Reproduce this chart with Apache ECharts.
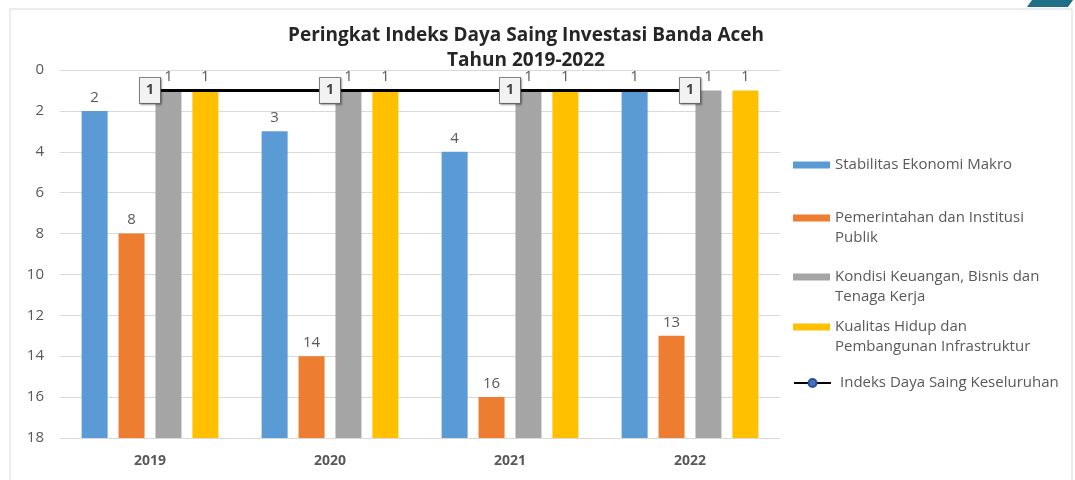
<!DOCTYPE html>
<html>
<head>
<meta charset="utf-8">
<script src="https://cdn.jsdelivr.net/npm/echarts@6/dist/echarts.min.js"></script>
<style>
html,body{margin:0;padding:0;background:#fff;}
#charts{width:1075px;height:480px;}
</style>
</head>
<body>
<div id="charts"></div>
<script>
// data peringkat (semakin kecil semakin baik)
var years = ['2019', '2020', '2021', '2022'];
var stabilitas = [2, 3, 4, 1];
var pemerintahan = [8, 14, 16, 13];
var keuangan = [1, 1, 1, 1];
var kualitas = [1, 1, 1, 1];
var keseluruhan = [1, 1, 1, 1];
var yTicks = [0, 2, 4, 6, 8, 10, 12, 14, 16, 18];
var yMax = 18;

var barNames = ['Stabilitas Ekonomi Makro', 'Pemerintahan dan Institusi Publik',
	'Kondisi Keuangan, Bisnis dan Tenaga Kerja', 'Kualitas Hidup dan Pembangunan Infrastruktur'];
// baris pertama & kedua teks legenda
var legendLine1 = ['Stabilitas Ekonomi Makro', 'Pemerintahan dan Institusi',
	'Kondisi Keuangan, Bisnis dan', 'Kualitas Hidup dan'];
var legendLine2 = ['', 'Publik', 'Tenaga Kerja', 'Pembangunan Infrastruktur'];
var lineName = 'Indeks Daya Saing Keseluruhan';
var barData = [stabilitas, pemerintahan, keuangan, kualitas];
var colors = ['#5B9BD5', '#ED7D31', '#A5A5A5', '#FFC000'];
var legendCenters = [163, 216, 275, 325];

var font = 'Open Sans';

function buildSeries(){
	var series = [];
	barData.forEach(function(vals, i){
		// bagian transparan dari 0 sampai nilai peringkat (sumbu terbalik)
		series.push({
			name: 'base' + i,
			type: 'bar',
			stack: 's' + i,
			barWidth: 26,
			barGap: '42%',
			silent: true,
			itemStyle: { color: 'transparent' },
			data: vals
		});
		series.push({
			name: barNames[i],
			type: 'bar',
			stack: 's' + i,
			barWidth: 26,
			barGap: '42%',
			itemStyle: { color: colors[i] },
			label: {
				show: true,
				position: 'top',
				distance: 6,
				color: '#595959',
				fontFamily: font,
				fontSize: 15,
				formatter: function(p){ return vals[p.dataIndex]; }
			},
			data: vals.map(function(v){ return yMax - v; })
		});
	});
	series.push({
		name: lineName,
		type: 'line',
		z: 5,
		symbol: 'circle',
		symbolSize: 9,
		itemStyle: { color: '#4472C4', borderColor: '#2F528F', borderWidth: 1 },
		lineStyle: { color: '#000', width: 3 },
		label: {
			show: true,
			position: 'inside',
			color: '#404040',
			fontFamily: font,
			fontWeight: 'bold',
			fontSize: 14,
			backgroundColor: '#f2f2f2',
			borderColor: '#7f7f7f',
			borderWidth: 1,
			padding: [6, 6, 5, 6],
			shadowColor: 'rgba(0,0,0,0.3)',
			shadowOffsetX: 1,
			shadowOffsetY: 1,
			shadowBlur: 2
		},
		data: keseluruhan
	});
	return series;
}

function buildLegends(){
	var legends = [];
	barNames.forEach(function(n, i){
		legends.push({
			left: 788,
			top: legendCenters[i] - 13,
			icon: 'rect',
			itemWidth: 37,
			itemHeight: 7,
			selectedMode: false,
			data: [n],
			formatter: function(){ return legendLine1[i]; },
			textStyle: { color: '#595959', fontFamily: font, fontSize: 15, lineHeight: 20 }
		});
	});
	legends.push({
		left: 788,
		top: 368,
		itemWidth: 37,
		itemHeight: 10,
		selectedMode: false,
		data: [lineName],
		textStyle: { color: '#595959', fontFamily: font, fontSize: 15, lineHeight: 20, padding: [0, 0, 0, 4] }
	});
	return legends;
}

function buildGraphic(){
	var g = [{
		type: 'rect',
		shape: { x: 10, y: 9, width: 1062, height: 480 },
		style: { fill: 'none', stroke: '#d9d9d9', lineWidth: 1 },
		silent: true
	}, {
		type: 'polygon',
		shape: { points: [[1032, 0], [1073, 0], [1068, 7], [1027, 7]] },
		style: { fill: '#1f6f86' },
		silent: true
	}];
	legendLine2.forEach(function(t, i){
		if (!t) return;
		g.push({
			type: 'text',
			x: 835,
			y: legendCenters[i] + 22,
			silent: true,
			style: {
				text: t,
				fill: '#595959',
				font: '15px "' + font + '"',
				verticalAlign: 'middle'
			}
		});
	});
	return g;
}

var options = {
	backgroundColor: '#fff',
	animation: false,
	title: {
		text: 'Peringkat Indeks Daya Saing Investasi Banda Aceh\nTahun 2019-2022',
		left: 521,
		top: 18,
		textAlign: 'center',
		textStyle: {
			color: '#262626',
			fontFamily: font,
			fontWeight: 'bold',
			fontSize: 19,
			lineHeight: 25
		}
	},
	graphic: buildGraphic(),
	legend: buildLegends(),
	grid: { left: 60, right: 295, top: 70, bottom: 42 },
	xAxis: {
		type: 'category',
		data: years,
		axisLine: { show: true, lineStyle: { color: '#d9d9d9' } },
		axisTick: { show: false },
		axisLabel: { color: '#595959', fontFamily: font, fontSize: 14, fontWeight: 'bold', margin: 16 }
	},
	yAxis: {
		type: 'value',
		inverse: true,
		min: yTicks[0],
		max: yTicks[yTicks.length - 1],
		interval: 2,
		axisLine: { show: false },
		axisTick: { show: false },
		splitLine: { lineStyle: { color: '#d9d9d9' } },
		axisLabel: { color: '#595959', fontFamily: font, fontSize: 15, margin: 16 }
	},
	series: buildSeries()
};

var charts = echarts.init(document.getElementById('charts'));
charts.setOption(options);
</script>
</body>
</html>
